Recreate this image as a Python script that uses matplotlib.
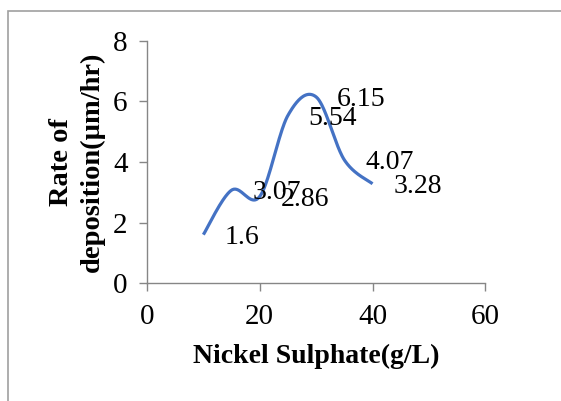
import numpy as np
import matplotlib.pyplot as plt
from matplotlib.patches import Rectangle

# data
nickel_sulphate = [10, 15, 20, 25, 30, 35, 40]
rate = [1.6, 3.07, 2.86, 5.54, 6.15, 4.07, 3.28]
point_labels = ['1.6', '3.07', '2.86', '5.54', '6.15', '4.07', '3.28']


# Excel-style smoothed line (cubic Bezier through the points)
def smooth_curve(x, y, n=40):
    x = np.asarray(x, float)
    y = np.asarray(y, float)
    px = np.concatenate([[x[0]], x, [x[-1]]])
    py = np.concatenate([[y[0]], y, [y[-1]]])
    xs, ys = [], []
    t = np.linspace(0, 1, n)
    for i in range(len(x) - 1):
        p0 = np.array([px[i + 1], py[i + 1]])
        p3 = np.array([px[i + 2], py[i + 2]])
        c1 = p0 + (np.array([px[i + 2], py[i + 2]]) - np.array([px[i], py[i]])) / 6
        c2 = p3 - (np.array([px[i + 3], py[i + 3]]) - np.array([px[i + 1], py[i + 1]])) / 6
        b = ((1 - t) ** 3)[:, None] * p0 + (3 * (1 - t) ** 2 * t)[:, None] * c1 \
            + (3 * (1 - t) * t ** 2)[:, None] * c2 + (t ** 3)[:, None] * p3
        xs.extend(b[:, 0])
        ys.extend(b[:, 1])
    return xs, ys


plt.rcParams['font.family'] = ['Liberation Serif', 'DejaVu Serif']

fig = plt.figure(figsize=(5.61, 4.01), dpi=100)
ax = fig.add_axes([0.262, 0.294, 0.603, 0.604])

# outer chart frame
fig.patches.append(Rectangle((8 / 561, -0.1), 1.2, 1 - 11 / 401 + 0.1,
                             transform=fig.transFigure, fill=False,
                             edgecolor='#a0a0a0', linewidth=1.2))

sx, sy = smooth_curve(nickel_sulphate, rate)
ax.plot(sx, sy, color='#4472C4', linewidth=2.3, solid_capstyle='butt')

for xv, yv, lab in zip(nickel_sulphate, rate, point_labels):
    ax.annotate(lab, (xv, yv), xytext=(15, -2), textcoords='offset points',
                ha='left', va='center', fontsize=20)

ax.set_xlim(0, 60)
ax.set_ylim(0, 8)
ax.set_xticks([0, 20, 40, 60])
ax.set_yticks([0, 2, 4, 6, 8])
ax.tick_params(labelsize=21, color='#868686', length=6, width=1, direction='out')
ax.tick_params(axis='y', pad=8)
ax.tick_params(axis='x', pad=9)

for s in ['top', 'right']:
    ax.spines[s].set_visible(False)
for s in ['left', 'bottom']:
    ax.spines[s].set_color('#868686')
    ax.spines[s].set_linewidth(1)

ax.set_xlabel('Nickel Sulphate(g/L)', fontsize=20, fontweight='bold', labelpad=10)
ax.set_ylabel('Rate of\ndeposition(µm/hr)', fontsize=20.5, fontweight='bold',
              labelpad=6, linespacing=1.3)

fig.savefig('out.png', dpi=100)
